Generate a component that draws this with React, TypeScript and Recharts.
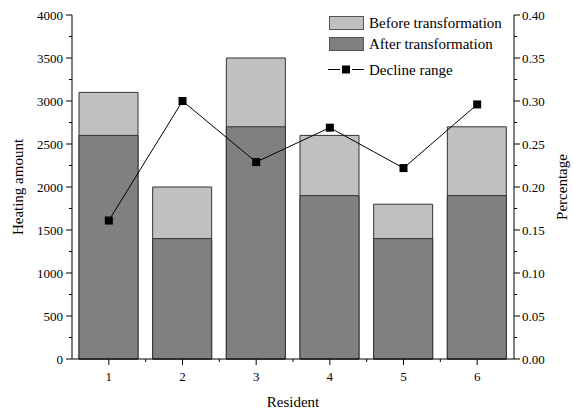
import { ComposedChart, Bar, Line, XAxis, YAxis, Label } from "recharts";

const residents = [1, 2, 3, 4, 5, 6];
const beforeHeat = [3100, 2000, 3500, 2600, 1800, 2700];
const afterHeat = [2600, 1400, 2700, 1900, 1400, 1900];
const declineRange = [0.161, 0.3, 0.229, 0.269, 0.222, 0.296];

const leftTicks = [
	0, 250, 500, 750, 1000, 1250, 1500, 1750, 2000, 2250, 2500, 2750, 3000, 3250,
	3500, 3750, 4000,
];
const rightTicks = [
	0, 0.025, 0.05, 0.075, 0.1, 0.125, 0.15, 0.175, 0.2, 0.225, 0.25, 0.275, 0.3,
	0.325, 0.35, 0.375, 0.4,
];

const data = residents.map((r, i) => ({
	resident: r,
	before: beforeHeat[i],
	after: afterHeat[i],
	decline: declineRange[i],
}));

const FONT = "'Liberation Serif', 'Times New Roman', serif";
const HALF_BAND = 36.83;

function LeftTick({ x, y, payload }: any) {
	const major = payload.value % 500 === 0;
	return (
		<g>
			<line x1={x - (major ? 6 : 3)} y1={y} x2={x} y2={y} stroke="#000" />
			{major && (
				<text x={x - 9} y={y + 4.5} textAnchor="end" fontSize={13} fontFamily={FONT} fill="#000">
					{payload.value}
				</text>
			)}
		</g>
	);
}

function RightTick({ x, y, payload }: any) {
	const major = Math.round(payload.value * 1000) % 50 === 0;
	return (
		<g>
			<line x1={x} y1={y} x2={x + (major ? 6 : 3)} y2={y} stroke="#000" />
			{major && (
				<text x={x + 8} y={y + 4.5} textAnchor="start" fontSize={13} fontFamily={FONT} fill="#000">
					{payload.value.toFixed(2)}
				</text>
			)}
		</g>
	);
}

function BottomTick({ x, y, payload, index }: any) {
	const half = HALF_BAND;
	return (
		<g>
			<line x1={x} y1={y} x2={x} y2={y + 6} stroke="#000" />
			{index > 0 && <line x1={x - half} y1={y} x2={x - half} y2={y + 3} stroke="#000" />}
			<text x={x} y={y + 22} textAnchor="middle" fontSize={13} fontFamily={FONT} fill="#000">
				{payload.value}
			</text>
		</g>
	);
}

function TopTick({ x, y }: any) {
	const half = HALF_BAND;
	return (
		<g>
			<line x1={x} y1={y} x2={x} y2={y - 2} stroke="#bbb" />
			<line x1={x + half} y1={y} x2={x + half} y2={y - 2} stroke="#bbb" />
		</g>
	);
}

function SquareDot({ cx, cy }: any) {
	return <rect x={cx - 4} y={cy - 4} width={8} height={8} fill="#000" />;
}

function ChartLegend() {
	const textStyle = { fontSize: 15, fontFamily: FONT, fill: "#000" } as const;
	return (
		<svg width={190} height={64} style={{ position: "absolute", left: 325, top: 15 }}>
			<rect x={4.5} y={1.5} width={34} height={13} fill="#c0c0c0" stroke="#555" />
			<text x={44} y={13} {...textStyle}>Before transformation</text>
			<rect x={4.5} y={22.5} width={34} height={13} fill="#808080" stroke="#555" />
			<text x={44} y={34} {...textStyle}>After transformation</text>
			<line x1={3} y1={54.5} x2={15} y2={54.5} stroke="#000" />
			<line x1={27} y1={54.5} x2={39} y2={54.5} stroke="#000" />
			<rect x={17} y={50.5} width={8} height={8} fill="#000" />
			<text x={44} y={59.5} {...textStyle}>Decline range</text>
		</svg>
	);
}

export default function App() {
	return (
		<div style={{ position: "absolute", left: 0, top: 0, width: 573, height: 414, background: "#fff" }}>
			<ComposedChart
				width={573}
				height={414}
				data={data}
				margin={{ top: 15, right: 0, bottom: 0, left: 0 }}
				barGap={-59}
				barCategoryGap="10%"
			>
				<XAxis
					dataKey="resident"
					type="category"
					height={55}
					tickSize={0}
					tickMargin={0}
					tick={<BottomTick />}
					stroke="#000"
					interval={0}
				>
					<Label value="Resident" position="insideBottom" offset={7} fontSize={15} fontFamily={FONT} fill="#000" />
				</XAxis>
				<XAxis
					xAxisId="top"
					dataKey="resident"
					orientation="top"
					height={0}
					tickSize={0}
					tickMargin={0}
					tick={<TopTick />}
					stroke="#000"
					interval={0}
				/>
				<YAxis
					yAxisId="left"
					width={72}
					domain={[0, 4000]}
					ticks={leftTicks}
					interval={0}
					tickSize={0}
					tickMargin={0}
					tick={<LeftTick />}
					stroke="#000"
				>
					<Label value="Heating amount" angle={-90} position="insideLeft" offset={18} fontSize={15} fontFamily={FONT} fill="#000" style={{ textAnchor: "middle" }} />
				</YAxis>
				<YAxis
					yAxisId="right"
					orientation="right"
					width={59}
					domain={[0, 0.4]}
					ticks={rightTicks}
					interval={0}
					tickSize={0}
					tickMargin={0}
					tick={<RightTick />}
					stroke="#000"
				>
					<Label value="Percentage" angle={-90} position="insideRight" offset={11} fontSize={15} fontFamily={FONT} fill="#000" style={{ textAnchor: "middle" }} />
				</YAxis>
				<Bar yAxisId="left" dataKey="before" barSize={59} fill="#c0c0c0" stroke="#333" isAnimationActive={false} />
				<Bar yAxisId="left" dataKey="after" barSize={59} fill="#808080" stroke="#333" isAnimationActive={false} />
				<Line
					yAxisId="right"
					dataKey="decline"
					type="linear"
					stroke="#000"
					strokeWidth={1}
					dot={<SquareDot />}
					activeDot={false}
					isAnimationActive={false}
				/>
			</ComposedChart>
			<ChartLegend />
		</div>
	);
}
